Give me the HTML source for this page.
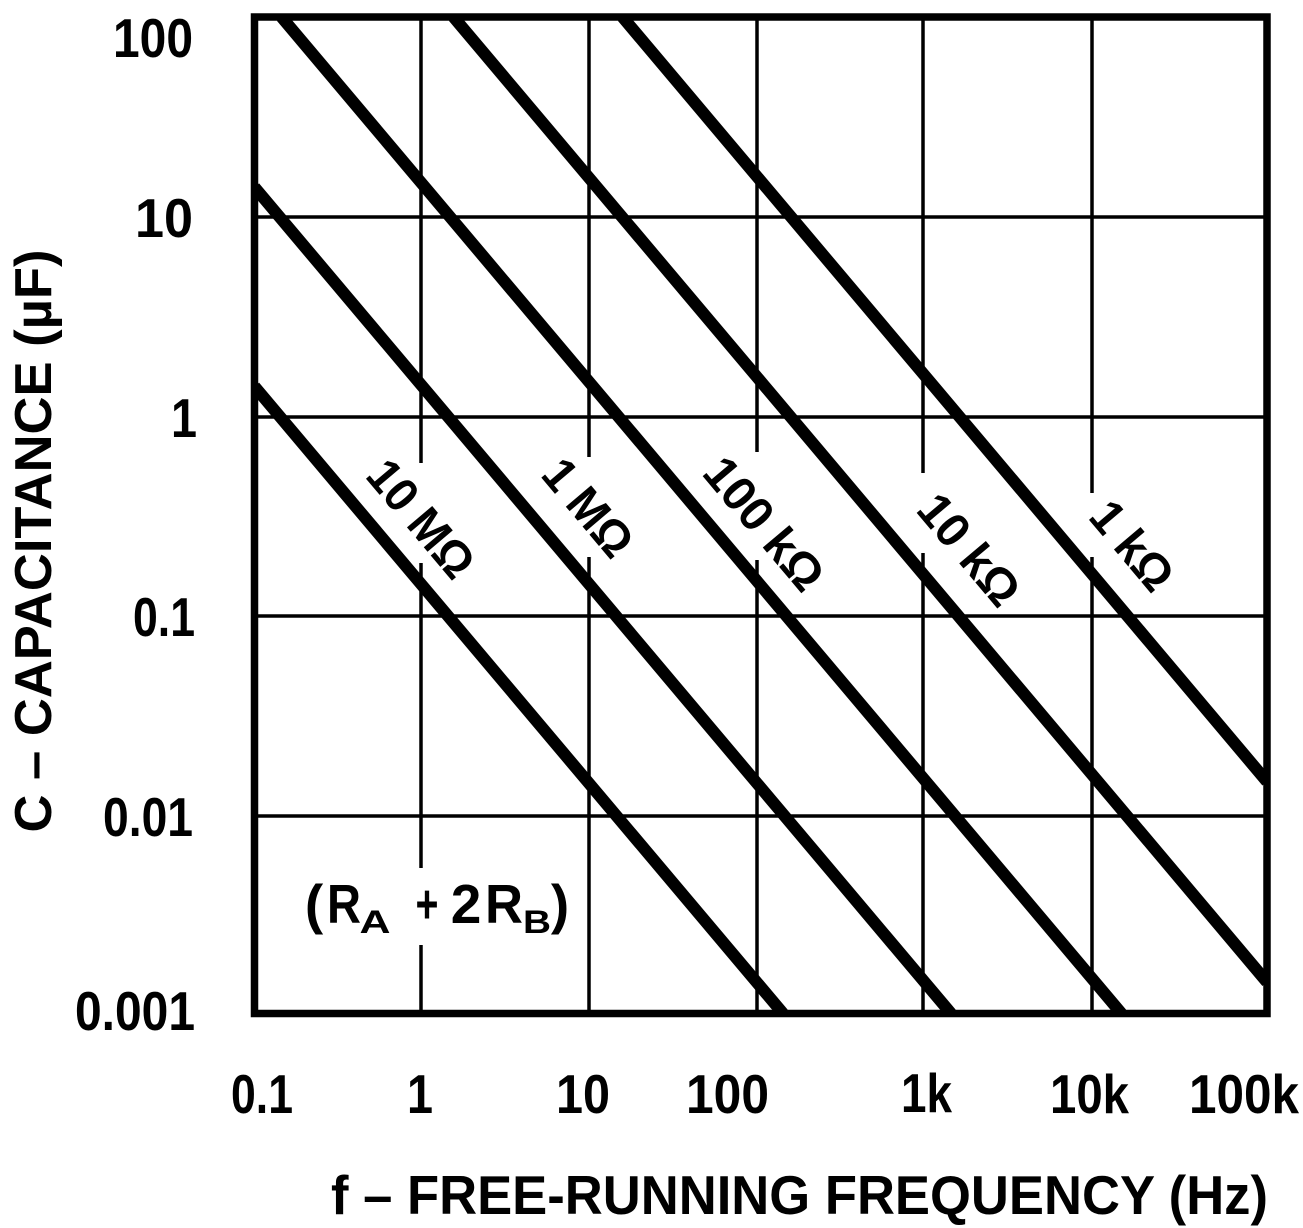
<!DOCTYPE html>
<html><head><meta charset="utf-8"><style>
html,body{margin:0;padding:0;background:#fff;width:1303px;height:1228px;overflow:hidden;}
svg{display:block;overflow:hidden;}
text{font-family:"Liberation Sans",Arial,sans-serif;font-weight:bold;fill:#000;}
</style></head><body>
<svg width="1303" height="1228" viewBox="0 0 1303 1228" xmlns="http://www.w3.org/2000/svg">
<rect width="1303" height="1228" fill="#fff"/>
<defs><clipPath id="c"><rect x="254.5" y="17" width="1012.5" height="996.5"/></clipPath></defs>
<g stroke="#000" stroke-width="3.5" fill="none">
<line x1="421" y1="17" x2="421" y2="463"/><line x1="421" y1="563" x2="421" y2="868"/><line x1="421" y1="945" x2="421" y2="1013"/>
<line x1="589" y1="17" x2="589" y2="457"/><line x1="589" y1="557" x2="589" y2="1013"/>
<line x1="757" y1="17" x2="757" y2="452"/><line x1="757" y1="560" x2="757" y2="1013"/>
<line x1="923" y1="17" x2="923" y2="473"/><line x1="923" y1="553" x2="923" y2="1013"/>
<line x1="1092" y1="17" x2="1092" y2="493"/><line x1="1092" y1="557" x2="1092" y2="1013"/>
<line x1="254" y1="217" x2="1267" y2="217"/>
<line x1="254" y1="417" x2="1267" y2="417"/>
<line x1="254" y1="616" x2="1267" y2="616"/>
<line x1="254" y1="816" x2="1267" y2="816"/>
</g>
<g clip-path="url(#c)" stroke="#000" stroke-width="12" fill="none">
<line x1="254.5" y1="386.5" x2="783.1" y2="1013.5"/>
<line x1="254.5" y1="187.2" x2="951.1" y2="1013.5"/>
<line x1="281.5" y1="17" x2="1121.5" y2="1013.5"/>
<line x1="453.5" y1="17" x2="1267" y2="982.1"/>
<line x1="622.5" y1="17" x2="1267" y2="781.6"/>
</g>
<rect x="254.5" y="17" width="1012.5" height="996.5" fill="none" stroke="#000" stroke-width="7.5"/>

<g font-size="55">
<text x="193" y="57" text-anchor="end" textLength="80" lengthAdjust="spacingAndGlyphs">100</text>
<text x="193" y="237" text-anchor="end" textLength="58" lengthAdjust="spacingAndGlyphs">10</text>
<text x="184" y="437" text-anchor="middle" textLength="26" lengthAdjust="spacingAndGlyphs">1</text>
<text x="195" y="636" text-anchor="end" textLength="62" lengthAdjust="spacingAndGlyphs">0.1</text>
<text x="193" y="836" text-anchor="end" textLength="90" lengthAdjust="spacingAndGlyphs">0.01</text>
<text x="195" y="1030" text-anchor="end" textLength="120" lengthAdjust="spacingAndGlyphs">0.001</text>
</g>

<g font-size="55">
<text x="231" y="1113" textLength="62" lengthAdjust="spacingAndGlyphs">0.1</text>
<text x="420" y="1113" text-anchor="middle" textLength="26" lengthAdjust="spacingAndGlyphs">1</text>
<text x="556" y="1113" textLength="54" lengthAdjust="spacingAndGlyphs">10</text>
<text x="686" y="1113" textLength="83" lengthAdjust="spacingAndGlyphs">100</text>
<text x="901" y="1112" textLength="51" lengthAdjust="spacingAndGlyphs">1k</text>
<text x="1050" y="1113" textLength="79" lengthAdjust="spacingAndGlyphs">10k</text>
<text x="1189" y="1113" textLength="110" lengthAdjust="spacingAndGlyphs">100k</text>
</g>

<text x="331" y="1214" font-size="55" textLength="937" lengthAdjust="spacingAndGlyphs">f – FREE-RUNNING FREQUENCY (Hz)</text>
<g transform="translate(32,541) rotate(-90)">
<text x="-291.5" y="19" font-size="52" textLength="583" lengthAdjust="spacingAndGlyphs">C – CAPACITANCE (µF)</text>
</g>

<g font-size="55">
<text x="314" y="923" text-anchor="middle">(</text>
<text x="344" y="923" text-anchor="middle" textLength="34" lengthAdjust="spacingAndGlyphs">R</text>
<text x="375" y="933" text-anchor="middle" font-size="32" textLength="31" lengthAdjust="spacingAndGlyphs">A</text>
<text x="427" y="923" text-anchor="middle" textLength="23" lengthAdjust="spacingAndGlyphs">+</text>
<text x="466" y="923" text-anchor="middle">2</text>
<text x="504" y="923" text-anchor="middle" textLength="38" lengthAdjust="spacingAndGlyphs">R</text>
<text x="537" y="933" text-anchor="middle" font-size="32" textLength="28" lengthAdjust="spacingAndGlyphs">B</text>
<text x="560" y="923" text-anchor="middle">)</text>
</g>

<g font-size="48">
<g transform="translate(422,518) rotate(49.87)"><text x="0" y="17.5" text-anchor="middle" textLength="138" lengthAdjust="spacingAndGlyphs">10 MΩ</text></g>
<g transform="translate(589,507) rotate(49.87)"><text x="0" y="17.5" text-anchor="middle" textLength="112" lengthAdjust="spacingAndGlyphs">1 MΩ</text></g>
<g transform="translate(765,523) rotate(49.87)"><text x="0" y="17.5" text-anchor="middle" textLength="158" lengthAdjust="spacingAndGlyphs">100 kΩ</text></g>
<g transform="translate(970,549) rotate(49.87)"><text x="0" y="17.5" text-anchor="middle" textLength="130" lengthAdjust="spacingAndGlyphs">10 kΩ</text></g>
<g transform="translate(1133,545) rotate(49.87)"><text x="0" y="17.5" text-anchor="middle" textLength="101" lengthAdjust="spacingAndGlyphs">1 kΩ</text></g>
</g>
</svg>
</body></html>
